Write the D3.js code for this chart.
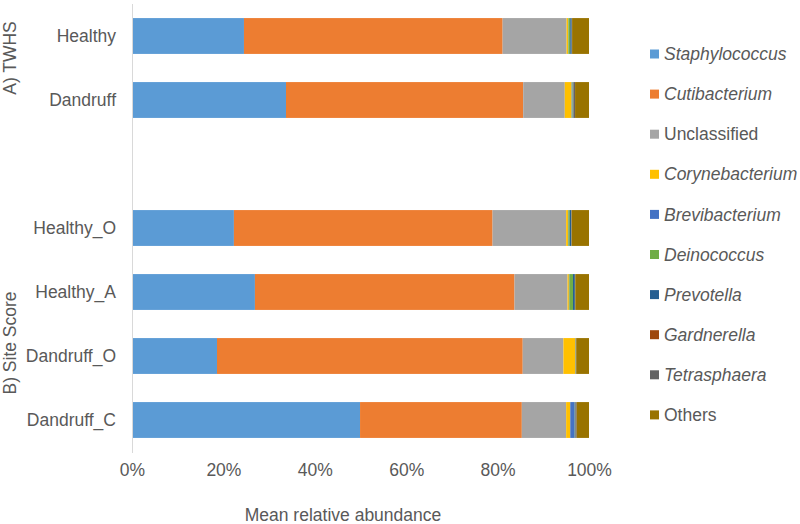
<!DOCTYPE html>
<html><head><meta charset="utf-8">
<script src="https://cdn.jsdelivr.net/npm/d3@7"></script>
<style>
html,body{margin:0;padding:0;background:#fff;}
text{font-family:"Liberation Sans",Arial,sans-serif;fill:#595959;}
</style></head>
<body><svg id="chart" width="800" height="524"></svg>
<script>
const categories = ["Healthy","Dandruff","","Healthy_O","Healthy_A","Dandruff_O","Dandruff_C"];
const seriesNames = ["Staphylococcus","Cutibacterium","Unclassified","Corynebacterium","Brevibacterium","Deinococcus","Prevotella","Gardnerella","Tetrasphaera","Others"];
const italicSeries = [true,true,false,true,true,true,true,true,true,false];
const colors = ["#5B9BD5","#ED7D31","#A5A5A5","#FFC000","#4472C4","#70AD47","#255E91","#9E480E","#636363","#997300"];
// values in %, order follows seriesNames
const healthy    = [24.5, 56.6, 14.0, 0.35, 0.05, 0.4, 0.3, 0.0, 0.1, 3.7];
const dandruff   = [33.7, 51.9,  9.1, 1.5, 0.2, 0.1, 0.1, 0.05, 0.3, 3.05];
const healthyO   = [22.3, 56.6, 16.1, 0.4, 0.1, 0.3, 0.3, 0.0, 0.1, 3.8];
const healthyA   = [26.9, 56.8, 11.6, 0.3, 0.1, 0.8, 0.4, 0.0, 0.1, 3.0];
const dandruffO  = [18.6, 66.9,  8.9, 2.6, 0.05, 0.05, 0.0, 0.0, 0.1, 2.8];
const dandruffC  = [49.9, 35.4,  9.7, 0.9, 0.9, 0.05, 0.2, 0.05, 0.2, 2.7];
const rowValues = [healthy, dandruff, null, healthyO, healthyA, dandruffO, dandruffC];
const xTicks = [0, 20, 40, 60, 80, 100];
const groupLabels = ["A) TWHS", "B) Site Score"];
const xTitle = "Mean relative abundance";

const svg = d3.select("#chart");
const FS = "17.5px";
const x = d3.scaleLinear().domain([0,100]).range([132,589]);
const y = d3.scaleBand().domain(d3.range(categories.length)).range([4,452]).paddingInner(0.44).paddingOuter(0.22);
const color = d3.scaleOrdinal().domain(seriesNames).range(colors);

const rows = [];
rowValues.forEach((vals,i)=>{
  if(!vals) return;
  let acc = 0;
  vals.forEach((v,j)=>{ rows.push({i, s:seriesNames[j], x0:acc, x1:acc+v}); acc+=v; });
});
svg.append("g").selectAll("rect").data(rows).join("rect")
  .attr("x", d=>x(d.x0)).attr("width", d=>Math.max(0,x(d.x1)-x(d.x0)))
  .attr("y", d=>y(d.i)).attr("height", y.bandwidth())
  .attr("fill", d=>color(d.s));

// vertical axis line
svg.append("line").attr("x1",x(0)+0.5).attr("x2",x(0)+0.5).attr("y1",4).attr("y2",453)
  .attr("stroke","#d9d9d9").attr("stroke-width",1);

// category labels
const yAxis = d3.axisLeft(y).tickSize(0).tickPadding(0).tickFormat(i=>categories[i]);
const gy = svg.append("g").attr("transform",`translate(116,0)`).call(yAxis);
gy.select(".domain").remove();
gy.selectAll("text").style("font-size",FS).attr("fill","#595959");

// x axis
const xAxis = d3.axisBottom(x).tickValues(xTicks).tickSize(0).tickPadding(0).tickFormat(d=>d+"%");
const gx = svg.append("g").attr("transform",`translate(0,464)`).call(xAxis);
gx.select(".domain").remove();
gx.selectAll("text").style("font-size",FS).attr("fill","#595959").attr("dy","0.71em");

svg.append("text").attr("x",343).attr("y",521).attr("text-anchor","middle").style("font-size",FS).text(xTitle);

// group labels
const groupCenters = [58, 343];
groupLabels.forEach((g,k)=>{
  svg.append("text").attr("transform",`translate(16,${groupCenters[k]}) rotate(-90)`)
    .attr("text-anchor","middle").style("font-size",FS).text(g);
});

// legend
const leg = svg.append("g");
seriesNames.forEach((s,k)=>{
  const yy = 54 + k*40.1;
  leg.append("rect").attr("x",650).attr("y",yy-4.5).attr("width",9).attr("height",9).attr("fill",colors[k]);
  leg.append("text").attr("x",664).attr("y",yy).attr("dy","0.35em").style("font-size",FS)
    .style("font-style", italicSeries[k]?"italic":"normal").text(s);
});
</script></body></html>
